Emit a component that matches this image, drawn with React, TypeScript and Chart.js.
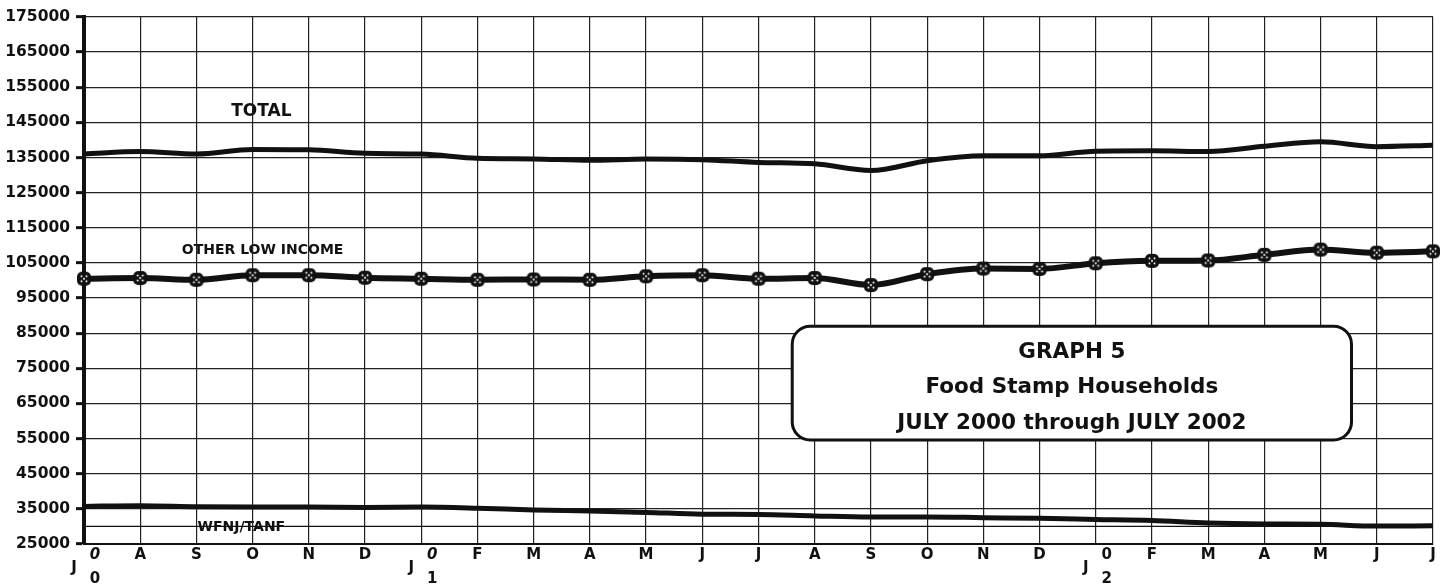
import React, { useEffect, useRef } from "react";
import { Chart, registerables } from "chart.js";

Chart.register(...registerables);

const categories = [
  "Jul 2000", "Aug 2000", "Sep 2000", "Oct 2000", "Nov 2000", "Dec 2000",
  "Jan 2001", "Feb 2001", "Mar 2001", "Apr 2001", "May 2001", "Jun 2001",
  "Jul 2001", "Aug 2001", "Sep 2001", "Oct 2001", "Nov 2001", "Dec 2001",
  "Jan 2002", "Feb 2002", "Mar 2002", "Apr 2002", "May 2002", "Jun 2002",
  "Jul 2002",
];

const monthLetters = [
  "J", "A", "S", "O", "N", "D", "J", "F", "M", "A", "M", "J",
  "J", "A", "S", "O", "N", "D", "J", "F", "M", "A", "M", "J", "J",
];

// year markers drawn beside the "J" of a new year: [index, top digit, bottom digit, italic top]
const yearMarks: [number, string, string, boolean][] = [
  [0, "0", "0", true],
  [6, "0", "1", true],
  [18, "0", "2", false],
];

const totalSeries = [
  136000, 136700, 136000, 137300, 137200, 136200, 136000, 134800, 134600,
  134200, 134600, 134400, 133600, 133200, 131300, 134100, 135500, 135500,
  136800, 136900, 136700, 138200, 139500, 138100, 138500,
];

const otherLowIncome = [
  100500, 100700, 100200, 101500, 101500, 100800, 100500, 100200, 100300,
  100200, 101200, 101500, 100500, 100700, 98700, 101800, 103400, 103300,
  104900, 105600, 105700, 107300, 108800, 107900, 108300,
];

const wfnjTanf = [
  35700, 35900, 35600, 35500, 35500, 35400, 35500, 35200, 34700, 34400,
  34000, 33500, 33400, 33000, 32700, 32700, 32500, 32300, 32000, 31700,
  31000, 30700, 30600, 30100, 30200,
];

const yTickValues = [
  25000, 35000, 45000, 55000, 65000, 75000, 85000, 95000, 105000, 115000,
  125000, 135000, 145000, 155000, 165000, 175000,
];
const extraGridValue = 30000;

const seriesLabels: { text: string; x: number; y: number; size: number }[] = [
  { text: "TOTAL", x: 2.62, y: 148200, size: 17 },
  { text: "OTHER LOW INCOME", x: 1.74, y: 108700, size: 14 },
  { text: "WFNJ/TANF", x: 2.02, y: 29700, size: 14 },
];

const titleLines = ["GRAPH 5", "Food Stamp Households", "JULY 2000 through JULY 2002"];
const titleBox = { xFrom: 12.6, xTo: 22.55, yFrom: 87000, yTo: 54600 };

function makeMarker(): HTMLCanvasElement {
  const c = document.createElement("canvas");
  const s = 16;
  c.width = s;
  c.height = s;
  const g = c.getContext("2d")!;
  g.fillStyle = "#111";
  g.beginPath();
  const r = 5;
  g.moveTo(1 + r, 1);
  g.arcTo(s - 1, 1, s - 1, s - 1, r);
  g.arcTo(s - 1, s - 1, 1, s - 1, r);
  g.arcTo(1, s - 1, 1, 1, r);
  g.arcTo(1, 1, s - 1, 1, r);
  g.closePath();
  g.fill();
  g.fillStyle = "#fff";
  const dots = [
    [5.5, 5.5], [10.5, 5.5], [5.5, 10.5], [10.5, 10.5], [8, 8],
  ];
  for (const [dx, dy] of dots) {
    g.beginPath();
    g.arc(dx, dy, 1, 0, Math.PI * 2);
    g.fill();
  }
  return c;
}

const FONT = "'DejaVu Sans', sans-serif";

export default function App() {
  const ref = useRef<HTMLCanvasElement | null>(null);

  useEffect(() => {
    document.body.style.margin = "0";
    const canvas = ref.current!;
    const marker = makeMarker();

    const underPlugin = {
      id: "under",
      beforeDraw(chart: any) {
        const { ctx, scales } = chart;
        const xs = scales.x;
        const ys = scales.y;
        ctx.save();
        ctx.fillStyle = "#fff";
        ctx.fillRect(0, 0, chart.width, chart.height);
        ctx.fillStyle = "#111";
        ctx.textAlign = "left";
        ctx.textBaseline = "middle";
        for (const l of seriesLabels) {
          ctx.font = `bold ${l.size}px ${FONT}`;
          ctx.fillText(l.text, xs.getPixelForValue(l.x), ys.getPixelForValue(l.y));
        }
        ctx.restore();
      },
      beforeDatasetsDraw(chart: any) {
        const { ctx, chartArea, scales } = chart;
        const y = scales.y.getPixelForValue(extraGridValue);
        ctx.save();
        ctx.strokeStyle = "#111";
        ctx.lineWidth = 1.3;
        ctx.beginPath();
        ctx.moveTo(chartArea.left, y);
        ctx.lineTo(chartArea.right, y);
        ctx.stroke();
        ctx.restore();
      },
    };

    const overPlugin = {
      id: "over",
      afterDraw(chart: any) {
        const { ctx, chartArea, scales } = chart;
        const xs = scales.x;
        const ys = scales.y;
        ctx.save();
        ctx.fillStyle = "#111";
        ctx.textAlign = "center";
        ctx.textBaseline = "middle";
        const base = chartArea.bottom;
        const yearIdx = new Set(yearMarks.map((m) => m[0]));
        monthLetters.forEach((m, i) => {
          const x = xs.getPixelForValue(i);
          ctx.font = `bold 15px ${FONT}`;
          if (yearIdx.has(i)) {
            ctx.fillText(m, x - 10, base + 24);
          } else {
            ctx.fillText(m, x, base + 11);
          }
        });
        for (const [idx, top, bottom, italic] of yearMarks) {
          const x = xs.getPixelForValue(idx) + 11;
          ctx.font = `${italic ? "italic " : ""}bold 15px ${FONT}`;
          ctx.fillText(top, x, base + 11);
          ctx.font = `bold 15px ${FONT}`;
          ctx.fillText(bottom, x, base + 35);
        }

        // title box
        const bx1 = xs.getPixelForValue(titleBox.xFrom);
        const bx2 = xs.getPixelForValue(titleBox.xTo);
        const by1 = ys.getPixelForValue(titleBox.yFrom);
        const by2 = ys.getPixelForValue(titleBox.yTo);
        const r = 18;
        ctx.beginPath();
        ctx.moveTo(bx1 + r, by1);
        ctx.arcTo(bx2, by1, bx2, by2, r);
        ctx.arcTo(bx2, by2, bx1, by2, r);
        ctx.arcTo(bx1, by2, bx1, by1, r);
        ctx.arcTo(bx1, by1, bx2, by1, r);
        ctx.closePath();
        ctx.fillStyle = "#fff";
        ctx.fill();
        ctx.lineWidth = 3;
        ctx.strokeStyle = "#111";
        ctx.stroke();
        ctx.fillStyle = "#111";
        ctx.font = `bold 21.5px ${FONT}`;
        const cx = (bx1 + bx2) / 2;
        const h = by2 - by1;
        const fr = [0.23, 0.54, 0.855];
        titleLines.forEach((t, i) => {
          ctx.fillText(t, cx, by1 + h * fr[i]);
        });
        ctx.restore();
      },
    };

    const chart = new Chart(canvas, {
      type: "line",
      data: {
        labels: categories,
        datasets: [
          {
            label: "TOTAL",
            data: totalSeries,
            borderColor: "#111",
            borderWidth: 5,
            pointRadius: 0,
            tension: 0.4,
            cubicInterpolationMode: "monotone",
          },
          {
            label: "OTHER LOW INCOME",
            data: otherLowIncome,
            borderColor: "#111",
            borderWidth: 6,
            pointStyle: marker as any,
            pointRadius: 8,
            tension: 0.3,
            cubicInterpolationMode: "monotone",
          },
          {
            label: "WFNJ/TANF",
            data: wfnjTanf,
            borderColor: "#111",
            borderWidth: 5,
            pointRadius: 0,
            tension: 0.4,
            cubicInterpolationMode: "monotone",
          },
        ],
      },
      options: {
        responsive: false,
        animation: false,
        layout: { padding: { top: 17, right: 16, left: 0, bottom: 0 } },
        plugins: { legend: { display: false }, tooltip: { enabled: false } },
        scales: {
          x: {
            type: "category",
            offset: false,
            grid: { color: "#222", lineWidth: 1.2, drawTicks: false, offset: false },
            border: { color: "#111", width: 2 },
            ticks: { display: false },
            afterFit(scale: any) {
              scale.height = 41;
            },
          },
          y: {
            min: 25000,
            max: 175000,
            grid: {
              color: "#222",
              lineWidth: 1.3,
              drawTicks: true,
              tickLength: 8,
              tickColor: "#111",
              tickWidth: 3,
            },
            border: { color: "#111", width: 4 },
            ticks: {
              color: "#111",
              font: { family: FONT, weight: "bold", size: 15.5 },
              padding: 6,
              callback: (v: any) => String(v),
            },
            afterBuildTicks(scale: any) {
              scale.ticks = yTickValues.map((v) => ({ value: v }));
            },
            afterFit(scale: any) {
              scale.width = 84;
            },
          },
        },
      },
      plugins: [underPlugin, overPlugin],
    });

    return () => chart.destroy();
  }, []);

  return <canvas ref={ref} width={1449} height={585} style={{ display: "block" }} />;
}
